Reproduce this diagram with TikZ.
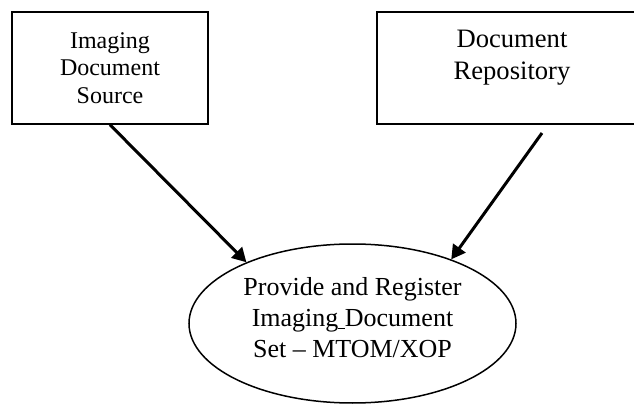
\documentclass[tikz,border=0pt]{standalone}
\usepackage{fontspec}
\setmainfont{Liberation Serif}
\usetikzlibrary{shapes.geometric, arrows.meta, positioning}
\definecolor{linecol}{HTML}{000000}

\begin{document}
\begin{tikzpicture}[
    x=0.5pt, y=0.5pt,
    >={Triangle[length=7pt, width=7.5pt]},
    % 1. actor box
    actorbox/.style={
        draw=linecol,
        line width=0.75pt,
        minimum width=98pt,
        minimum height=56pt,
        align=center,
        inner sep=0pt
    },
    % 2. text inside the repository box
    repotext/.style={
        anchor=north,
        inner sep=0pt,
        yshift=-9pt,
        align=center,
        font=\fontsize{13.3}{16}\selectfont
    },
    % 3. transaction ellipse
    transbox/.style={
        ellipse,
        draw=linecol,
        line width=0.75pt,
        minimum width=163.5pt,
        minimum height=79.5pt,
        align=center,
        inner sep=0pt,
        text depth=6.5pt,
        font=\fontsize{13}{15.5}\selectfont
    },
    % arrow
    arrow/.style={
        ->,
        line width=1.5pt,
        draw=linecol
    }
]
    \useasboundingbox (0,0) rectangle (634,403);

    % --- 1. nodes ---

    % Imaging Document Source
    \node[actorbox, font=\fontsize{12}{13.75}\selectfont] (src) at (110,335) {
        Imaging\\Document\\Source
    };

    % Document Repository (runs off the right edge)
    \node[actorbox, minimum width=135pt,
        label={[repotext]north:Document\\Repository}] (repo) at (512,335) {};

    % Provide and Register
    \node[transbox] (provide) at (352.5,79.5) {
        Provide and Register\\Imaging\underline{\ }Document\\Set – MTOM/XOP
    };

    % --- 2. arrows ---
    \coordinate (repoout) at (542,270);
    \draw[arrow] (src.south) -- (provide.150.9);
    \draw[arrow] (repoout) -- (provide.33.2);

\end{tikzpicture}
\end{document}
